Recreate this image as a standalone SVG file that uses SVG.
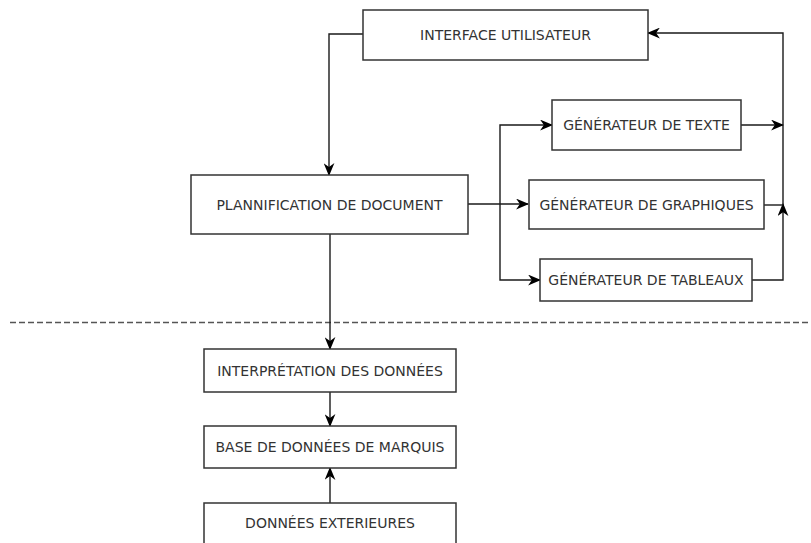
<svg xmlns="http://www.w3.org/2000/svg" width="811" height="543" viewBox="0 0 811 543">
  <style>
    .box { fill: #ffffff; stroke: #333333; stroke-width: 1.5; }
    .lbl { font-family: "DejaVu Sans", "Liberation Sans", sans-serif; font-size: 14px; fill: #333333; text-anchor: middle; dominant-baseline: central; }
    .wire { fill: none; stroke: #1a1a1a; stroke-width: 1.4; }
    .sep { fill: none; stroke: #555555; stroke-width: 1.4; stroke-dasharray: 6 3; }
  </style>
  <defs>
    <marker id="arrow" viewBox="0 0 12 10" refX="11" refY="5" markerWidth="13" markerHeight="11" markerUnits="userSpaceOnUse" orient="auto">
      <path d="M0,0 L12,5 L0,10 L3.5,5 z" fill="#000000"/>
    </marker>
  </defs>

  <rect width="811" height="543" fill="#ffffff"/>

  <!-- separation between presentation and data layers -->
  <path class="sep" d="M10,322.5 H811"/>

  <g id="connectors">
    <path class="wire" d="M363,34 H329 V175" marker-end="url(#arrow)"/>
    <path class="wire" d="M468,204 H528" marker-end="url(#arrow)"/>
    <path class="wire" d="M500,204 V125 H552" marker-end="url(#arrow)"/>
    <path class="wire" d="M500,204 V280 H540" marker-end="url(#arrow)"/>
    <path class="wire" d="M741,125 H783" marker-end="url(#arrow)"/>
    <path class="wire" d="M752,280 H783 V204" marker-end="url(#arrow)"/>
    <path class="wire" d="M764,205 H783"/>
    <path class="wire" d="M783,205 V33 H648" marker-end="url(#arrow)"/>
    <path class="wire" d="M330,234 V349" marker-end="url(#arrow)"/>
    <path class="wire" d="M330,392 V426" marker-end="url(#arrow)"/>
    <path class="wire" d="M330,503 V468" marker-end="url(#arrow)"/>
  </g>

  <g id="interface-utilisateur">
    <rect class="box" x="363" y="10" width="285" height="50"/>
    <text class="lbl" x="505.5" y="35">INTERFACE UTILISATEUR</text>
  </g>
  <g id="plannification">
    <rect class="box" x="191" y="175" width="277" height="59"/>
    <text class="lbl" x="329.5" y="204.5">PLANNIFICATION DE DOCUMENT</text>
  </g>
  <g id="generateur-texte">
    <rect class="box" x="552" y="100" width="189" height="50"/>
    <text class="lbl" x="646.5" y="125">GÉNÉRATEUR DE TEXTE</text>
  </g>
  <g id="generateur-graphiques">
    <rect class="box" x="529" y="180" width="235" height="49"/>
    <text class="lbl" x="646.5" y="205">GÉNÉRATEUR DE GRAPHIQUES</text>
  </g>
  <g id="generateur-tableaux">
    <rect class="box" x="540" y="259" width="212" height="42"/>
    <text class="lbl" x="646" y="280">GÉNÉRATEUR DE TABLEAUX</text>
  </g>
  <g id="interpretation">
    <rect class="box" x="204" y="349" width="252" height="43"/>
    <text class="lbl" x="330" y="370.5">INTERPRÉTATION DES DONNÉES</text>
  </g>
  <g id="base-marquis">
    <rect class="box" x="204" y="426" width="252" height="42"/>
    <text class="lbl" x="330" y="447">BASE DE DONNÉES DE MARQUIS</text>
  </g>
  <g id="donnees-exterieures">
    <rect class="box" x="204" y="503" width="252" height="50"/>
    <text class="lbl" x="330" y="523">DONNÉES EXTERIEURES</text>
  </g>
</svg>
